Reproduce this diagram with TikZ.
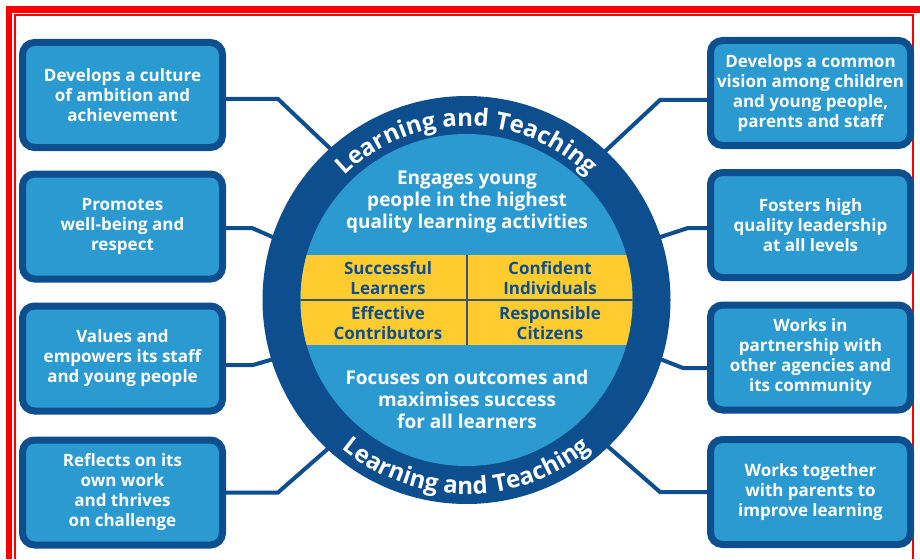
\documentclass[tikz,border=0pt]{standalone}
\usepackage{fontspec}
\setmainfont{Open Sans}
\usetikzlibrary{decorations.text,backgrounds}
\definecolor{ringblue}{HTML}{0C4E8E}
\definecolor{skyblue}{HTML}{2A9AD0}
\definecolor{gold}{HTML}{FFCB2F}
\definecolor{cellline}{HTML}{3A5470}
\newcommand{\ringfont}{\fontsize{24}{24}\selectfont\bfseries}
\begin{document}
\begin{tikzpicture}[x=1pt,y=1pt,
  panel/.style={draw=ringblue, line width=7pt, fill=skyblue, rounded corners=12pt,
    minimum width=200pt, minimum height=105pt, inner sep=0pt, align=center,
    text=white, font=\fontsize{17}{20}\selectfont\bfseries},
  link/.style={draw=ringblue, line width=4pt, shorten >=-10pt},
  celltext/.style={align=center, text=ringblue, inner sep=0pt,
    font=\fontsize{17}{20}\selectfont\bfseries},
  hubtext/.style={align=center, text=white, inner sep=0pt,
    font=\fontsize{19}{22}\selectfont\bfseries}
]
\useasboundingbox (0,0) rectangle (920,-559);

% red frame
\fill[red] (6,-6) rectangle (920,-13);
\fill[red] (6,-6) rectangle (12,-559);
\fill[red] (14,-14) rectangle (914,-16);
\fill[red] (14,-14) rectangle (16,-559);
\fill[red] (912,-14) rectangle (914,-559);

% central wheel
\node[circle, fill=ringblue, minimum size=408pt, inner sep=0pt] (hub) at (466.5,-300) {};
\fill[skyblue] (hub.center) circle (166);
\begin{scope}
  \clip (hub.center) circle (166);
  \fill[gold] (290,-255) rectangle (645,-345);
  \draw[cellline, line width=1.5pt] (290,-300) -- (645,-300);
  \draw[cellline, line width=1.5pt] (467,-255) -- (467,-345);
\end{scope}

\node[hubtext] (engage) at (467,-202) {Engages young\\people in the highest\\quality learning activities};
\node[hubtext] (focus) at (467,-399) {Focuses on outcomes and\\maximises success\\for all learners};

\node[celltext] (c1) at (388,-278) {Successful\\Learners};
\node[celltext] (c2) at (550,-278) {Confident\\Individuals};
\node[celltext] (c3) at (388,-323) {Effective\\Contributors};
\node[celltext] (c4) at (550,-323) {Responsible\\Citizens};

% ring lettering
\path[decorate, decoration={text along path, text align=center, text color=white,
  text={|\ringfont|Learning and Teaching}}]
  ([shift={(160:174)}]hub.center) arc[start angle=160, end angle=20, radius=174];
\path[decorate, decoration={text along path, text align=center, text color=white,
  text={|\ringfont|Learning and Teaching}}]
  ([shift={(200:194)}]hub.center) arc[start angle=200, end angle=340, radius=194];

% surrounding panels
\node[panel] (l1) at (122.5,-95) {Develops a culture\\of ambition and\\achievement};
\node[panel] (l2) at (122.5,-226.5) {Promotes\\well-being and\\respect};
\node[panel] (l3) at (122.5,-358.5) {Values and\\empowers its staff\\and young people};
\node[panel] (l4) at (122.5,-492.5) {Reflects on its\\own work\\and thrives\\on challenge};
\node[panel] (r1) at (810.5,-93) {Develops a common\\vision among children\\and young people,\\parents and staff};
\node[panel] (r2) at (810.5,-225) {Fosters high\\quality leadership\\at all levels};
\node[panel] (r3) at (810.5,-357.5) {Works in\\partnership with\\other agencies and\\its community};
\node[panel] (r4) at (810.5,-492) {Works together\\with parents to\\improve learning};

% connectors
\begin{scope}[on background layer]
  \draw[link] ([yshift=-4pt]l1.east) -- ++(52,0) -- (hub.132);
  \draw[link] ([yshift=-1.5pt]l2.east) -- ++(26,0) -- (hub.162);
  \draw[link] ([yshift=-6.5pt]l3.east) -- ++(27,0) -- (hub.197);
  \draw[link] (l4.east) -- ++(52,0) -- (hub.227);
  \draw[link] ([yshift=-7pt]r1.west) -- ++(-47,0) -- (hub.47);
  \draw[link] ([yshift=-3pt]r2.west) -- ++(-19,0) -- (hub.18);
  \draw[link] ([yshift=-10.5pt]r3.west) -- ++(-24,0) -- (hub.343);
  \draw[link] (r4.west) -- ++(-47,0) -- (hub.314);
\end{scope}
\end{tikzpicture}
\end{document}
